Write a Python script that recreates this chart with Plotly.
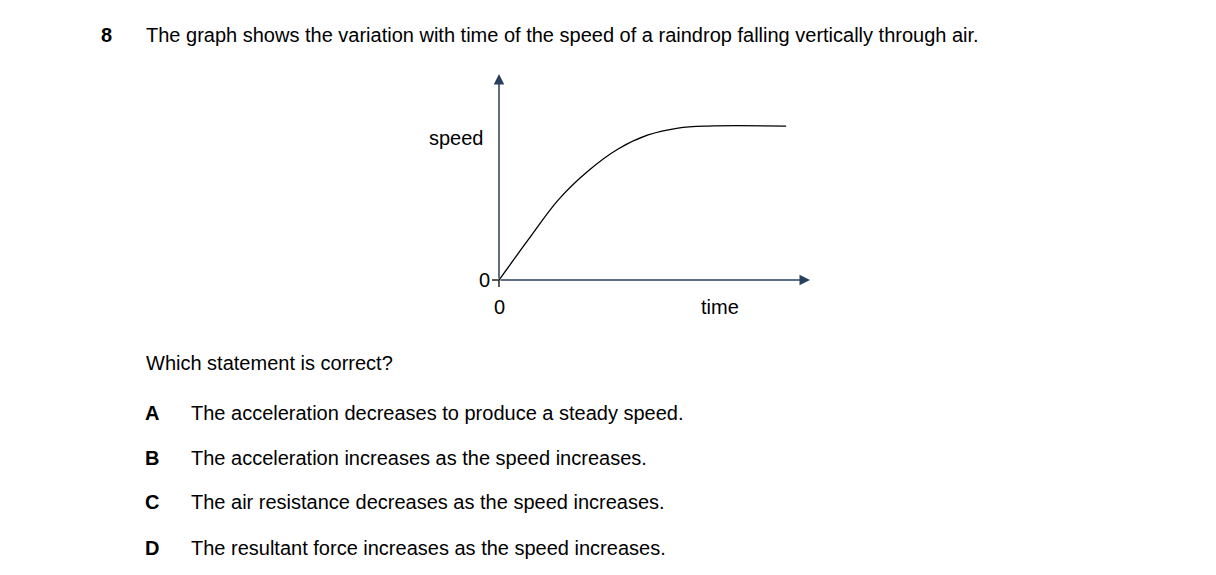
import plotly.graph_objects as go

W, H = 1216, 575

# curve (time, speed in arbitrary units)
time = [0, 0.97, 1.97, 2.97, 3.97, 4.97, 5.97, 6.97, 9.57]
speed = [0, 2.6, 5.19, 7.08, 8.51, 9.42, 9.87, 10.0, 10.0]

question = "The graph shows the variation with time of the speed of a raindrop falling vertically through air."
prompt = "Which statement is correct?"
letters = ["A", "B", "C", "D"]
options = [
    "The acceleration decreases to produce a steady speed.",
    "The acceleration increases as the speed increases.",
    "The air resistance decreases as the speed increases.",
    "The resultant force increases as the speed increases.",
]
option_y = [405, 450, 494, 540]

FONT = "Liberation Sans, Arial, sans-serif"


def px(x):
    return x / W


def py(y):
    return 1 - y / H


fig = go.Figure()
fig.add_trace(go.Scatter(x=time, y=speed, mode="lines", line=dict(color="black", width=1.3,
                                                                  shape="spline"), hoverinfo="skip"))

fig.update_layout(
    width=W, height=H, margin=dict(l=0, r=0, t=0, b=0),
    paper_bgcolor="white", plot_bgcolor="white", showlegend=False,
    xaxis=dict(domain=[px(491), px(800)], range=[0, 10.3], showgrid=False, zeroline=False,
               showline=False, showticklabels=False, ticks=""),
    yaxis=dict(domain=[py(272), py(68)], range=[0, 13.25], showgrid=False, zeroline=False,
               showline=False, showticklabels=False, ticks=""),
    font=dict(family=FONT, color="black", size=20),
)

# axes with arrowheads
ann = []
ann.append(dict(xref="paper", yref="paper", x=px(491), y=py(66), ax=0, ay=206,
                axref="pixel", ayref="pixel", showarrow=True, arrowhead=2, arrowsize=1.4,
                arrowwidth=1.5, text=""))
ann.append(dict(xref="paper", yref="paper", x=px(802), y=py(272), ax=-311, ay=0,
                axref="pixel", ayref="pixel", showarrow=True, arrowhead=2, arrowsize=1.4,
                arrowwidth=1.5, text=""))
shapes = [
    dict(type="line", xref="paper", yref="paper", x0=px(484), x1=px(491), y0=py(272), y1=py(272),
         line=dict(color="black", width=1.3)),
    dict(type="line", xref="paper", yref="paper", x0=px(491), x1=px(491), y0=py(272), y1=py(279),
         line=dict(color="black", width=1.3)),
]


def text(x, y, s, anchor="left", bold=False, size=20):
    ann.append(dict(xref="paper", yref="paper", x=px(x), y=py(y), text=f"<b>{s}</b>" if bold else s,
                    showarrow=False, xanchor=anchor, yanchor="middle", font=dict(size=size)))


text(91, 27, "8", bold=True)
text(136, 27, question)
text(478, 130, "speed", anchor="right")
text(476, 272, "0", anchor="center")
text(491, 299, "0", anchor="center")
text(712, 299, "time", anchor="center")
text(136, 355, prompt)
for l, o, y in zip(letters, options, option_y):
    text(144, y, l, anchor="center", bold=True)
    text(181, y, o)

fig.update_layout(annotations=ann, shapes=shapes)
fig.write_html("out.html")
